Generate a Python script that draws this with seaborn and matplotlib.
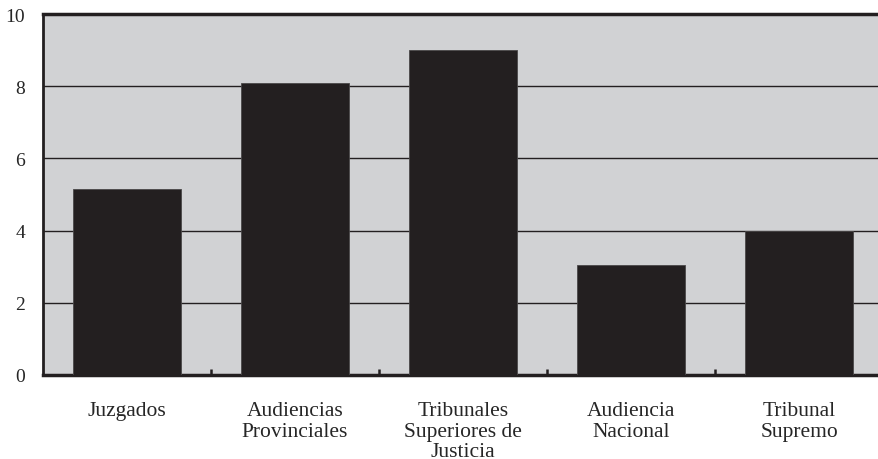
import matplotlib
matplotlib.use("Agg")
import matplotlib.pyplot as plt
import seaborn as sns
import pandas as pd
from matplotlib.ticker import FixedLocator

categories = ["Juzgados", "Audiencias\nProvinciales", "Tribunales\nSuperiores de\nJusticia",
              "Audiencia\nNacional", "Tribunal\nSupremo"]
values = [5.15, 8.1, 9.0, 3.05, 4.0]
yticks = [0, 2, 4, 6, 8, 10]

sns.set_theme(style="white")
plt.rcParams['font.family'] = ['Liberation Serif', 'DejaVu Serif']

df = pd.DataFrame({"cat": categories, "val": values})

fig = plt.figure(figsize=(8.79, 4.6), dpi=100)
ax = fig.add_axes([43/879, 1-376/460, 840/879, (376-15)/460])
ax.set_facecolor('#d1d2d4')

sns.barplot(data=df, x="cat", y="val", ax=ax, color='#231f20', saturation=1,
            width=0.64, edgecolor='#4a4748', linewidth=0.6, zorder=3)

ax.set_xlim(-0.5, 4.5)
ax.set_ylim(0, 10)
ax.set_yticks(yticks)
ax.set_yticklabels([str(t) for t in yticks])
for y in yticks[1:-1]:
    ax.axhline(y, color='#231f20', lw=1.0, zorder=1)

ax.set_xlabel("")
ax.set_ylabel("")
ax.tick_params(axis='x', which='major', length=0, pad=19, labelsize=15.5)
ax.tick_params(axis='y', which='major', length=0, pad=13, labelsize=14)
ax.xaxis.set_minor_locator(FixedLocator([0.5, 1.5, 2.5, 3.5]))
ax.tick_params(axis='x', which='minor', direction='in', length=4, width=1.8,
               color='#231f20', bottom=True)
for lbl in ax.get_xticklabels():
    lbl.set_linespacing(1.08)
    lbl.set_verticalalignment('top')

for side in ['top', 'left', 'bottom']:
    ax.spines[side].set_visible(True)
    ax.spines[side].set_color('#231f20')
ax.spines['top'].set_linewidth(2.5)
ax.spines['left'].set_linewidth(2.0)
ax.spines['bottom'].set_linewidth(2.5)
ax.spines['right'].set_visible(False)

fig.savefig("out.png", dpi=100, facecolor='white')
